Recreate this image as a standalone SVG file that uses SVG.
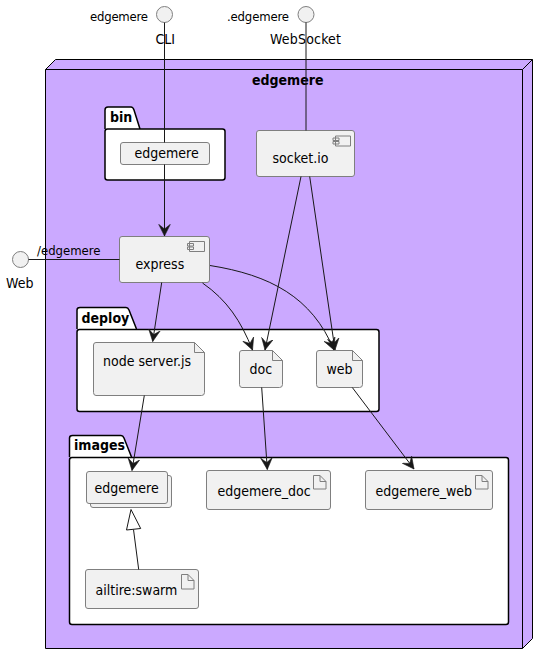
<svg xmlns="http://www.w3.org/2000/svg" width="548" height="664" viewBox="0 0 548 664">
<style>
text{font-family:"DejaVu Sans","Liberation Sans",sans-serif;font-stretch:condensed;fill:#000;font-size:14px}
.s{font-size:13px}
.b{font-weight:bold}
.n{fill:#F1F1F1;stroke:#7f7f7f;stroke-width:1}
.p{fill:#fff;stroke:#000;stroke-width:1.5}
.t{fill:#fff;stroke:#000;stroke-width:1.5}
.i{fill:none;stroke:#7f7f7f;stroke-width:1}
.c{fill:none;stroke:#181818;stroke-width:1}
.a{marker-end:url(#arr)}
</style>
<defs>
<marker id="arr" markerUnits="userSpaceOnUse" markerWidth="14" markerHeight="14" refX="10" refY="6" orient="auto" viewBox="0 0 12 12"><path d="M0 1L10 6L0 11L4 6Z" fill="#181818" stroke="#181818" stroke-width="0.5"/></marker>
</defs>
<g id="edgemere-node">
<path d="M45.5 69.5L55.5 59.5H532.5V638.5L522.5 648.5H45.5Z" fill="#CBA9FF" stroke="#000" stroke-width="1"/>
<path d="M45.5 69.5H522.5V648.5M522.5 69.5L532.5 59.5" fill="none" stroke="#000" stroke-width="1"/>
<text class="b" x="252" y="85">edgemere</text>
</g>
<g id="pkg-bin">
<path class="t" d="M105 129V110Q105 107 108 107H131Q133 107 134 110L140 129"/>
<rect class="p" x="105" y="129" width="120" height="51" rx="2.5"/>
<text class="b" x="110" y="122">bin</text>
</g>
<g id="pkg-deploy">
<path class="t" d="M77 329V310Q77 307.500 80 307.500H126Q128 307.500 129 310L136.500 329"/>
<rect class="p" x="77" y="329.500" width="302" height="82" rx="2.500"/>
<text class="b" x="81.500" y="323">deploy</text>
</g>
<g id="pkg-images">
<path class="t" d="M69.500 457V438Q69.500 435.500 72.500 435.500H121Q123 435.500 124 438L131.500 457"/>
<rect class="p" x="69.500" y="457.500" width="439" height="167" rx="2.500"/>
<text class="b" x="74" y="450">images</text>
</g>
<g id="if-cli">
<circle class="n" cx="164.500" cy="14.500" r="8"/>
<text class="s" x="90" y="21" textLength="58">edgemere</text>
<text x="155.500" y="44">CLI</text>
</g>
<g id="if-websocket">
<circle class="n" cx="306" cy="14.500" r="8"/>
<text class="s" x="227" y="21" textLength="62">.edgemere</text>
<text x="270" y="44" textLength="71">WebSocket</text>
</g>
<g id="if-web">
<circle class="n" cx="20.500" cy="259.500" r="8"/>
<text x="6" y="288">Web</text>
<text class="s" x="37" y="255">/edgemere</text>
</g>
<g id="bin-edgemere">
<rect class="n" x="120.500" y="142.500" width="89" height="22" rx="2.500"/>
<text x="134.500" y="158">edgemere</text>
</g>
<g id="socket-io">
<rect class="n" x="256.500" y="130.500" width="98" height="46" rx="2.500"/>
<path class="i" d="M335.500 136H350.500V146H335.500ZM333 138H339V140.500H333ZM333 141.500H339V144H333Z"/>
<text x="272.500" y="163">socket.io</text>
</g>
<g id="express">
<rect class="n" x="119.500" y="236.500" width="90" height="46" rx="2.500"/>
<path class="i" d="M189.500 241.500H204.500V251.500H189.500ZM187.500 243.500H193.500V246H187.500ZM187.500 247H193.500V249.500H187.500Z"/>
<text x="135.500" y="269">express</text>
</g>
<g id="node-server">
<path class="n" d="M96 342.500H194.500L204.500 352.500V392.500Q204.500 395.500 201.500 395.500H96Q93.500 395.500 93.500 392.500V345Q93.500 342.500 96 342.500Z"/>
<path class="i" d="M194.500 342.500V352.500H204.500"/>
<text x="103" y="366">node server.js</text>
</g>
<g id="doc">
<path class="n" d="M242 350.500H272.500L282.500 360.500V384.500Q282.500 387.500 279.500 387.500H242Q239.500 387.500 239.500 384.500V353Q239.500 350.500 242 350.500Z"/>
<path class="i" d="M272.500 350.500V360.500H282.500"/>
<text x="249.500" y="374">doc</text>
</g>
<g id="web">
<path class="n" d="M319 350.500H352.500L362.500 360.500V384.500Q362.500 387.500 359.500 387.500H319Q316.500 387.500 316.500 384.500V353Q316.500 350.500 319 350.500Z"/>
<path class="i" d="M352.500 350.500V360.500H362.500"/>
<text x="326.500" y="374">web</text>
</g>
<g id="img-edgemere">
<rect class="n" x="90.500" y="475.500" width="81" height="32" rx="2.500"/>
<rect class="n" x="86.500" y="471.500" width="81" height="32" rx="2.500"/>
<text x="94.500" y="493">edgemere</text>
</g>
<g id="img-edgemere-doc">
<rect class="n" x="206.500" y="470.500" width="124" height="39" rx="2.500"/>
<path class="i" d="M313.500 475.500H320L326 481.500V489H313.500ZM320 475.500V481.500H326"/>
<text x="217.500" y="496">edgemere_doc</text>
</g>
<g id="img-edgemere-web">
<rect class="n" x="365.500" y="470.500" width="127" height="39" rx="2.500"/>
<path class="i" d="M475.500 475.500H482L488 481.500V489H475.500ZM482 475.500V481.500H488"/>
<text x="375.500" y="496">edgemere_web</text>
</g>
<g id="img-ailtire">
<rect class="n" x="85.500" y="569.500" width="113" height="39" rx="2.500"/>
<path class="i" d="M181.500 574.500H188L194 580.500V589H181.500ZM188 574.500V580.500H194"/>
<text x="95.500" y="595">ailtire:swarm</text>
</g>
<g id="connectors">
<path class="c" d="M164.500 22.500V142.500"/>
<path class="c" d="M306 22.500V130.500"/>
<path class="c" d="M28.500 259.500H119.500"/>
<path class="c a" d="M164.500 164.500V236"/>
<path class="c a" d="M161.700 282.500L152.700 341.500"/>
<path class="c a" d="M202.500 283C227 300 241 321 252.500 350"/>
<path class="c a" d="M210 265.500C270 275 312 297 334 350"/>
<path class="c a" d="M301 176.500L265 350"/>
<path class="c a" d="M309.700 176.500L335 350"/>
<path class="c a" d="M144.300 395.500L132 470.500"/>
<path class="c a" d="M261.700 387.500L267.300 469.500"/>
<path class="c a" d="M352.300 387.500L414 469"/>
<path class="c" d="M138.700 569.500L133.500 529.500"/>
<path d="M131 509.500L126.500 530L140.700 528.500Z" fill="#fff" stroke="#181818" stroke-width="1"/>
</g>
</svg>
